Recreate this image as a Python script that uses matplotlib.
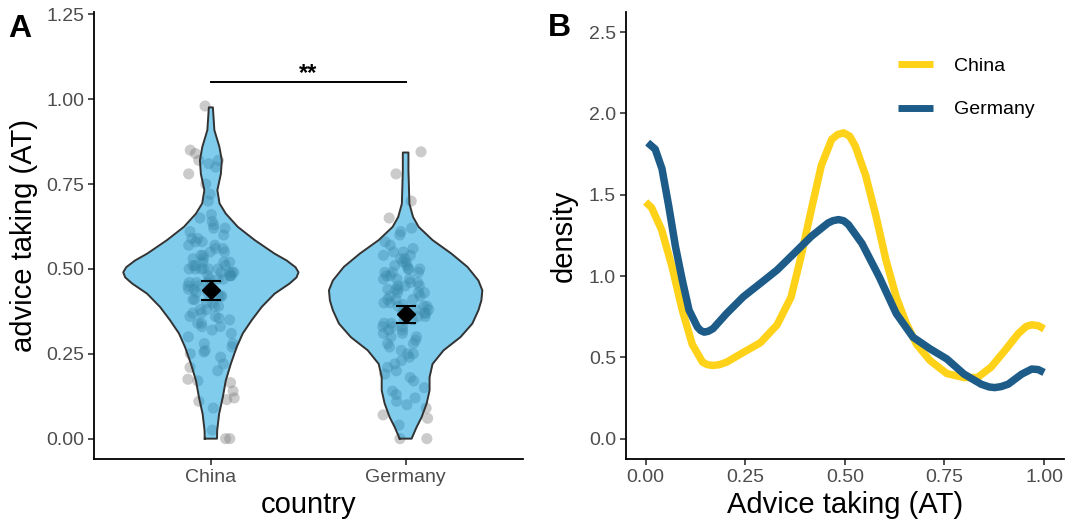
import numpy as np
import matplotlib
matplotlib.use("Agg")
import matplotlib.pyplot as plt

plt.rcParams['font.family'] = ['Liberation Sans', 'DejaVu Sans']

# ---- data ----
countries = ["China", "Germany"]

# individual advice-taking scores (jittered points)
china_at = [0.00, 0.00, 0.025,
            0.09, 0.11, 0.115, 0.12,
            0.14, 0.165, 0.17, 0.175,
            0.20, 0.21, 0.22, 0.24,
            0.25, 0.255, 0.26, 0.27, 0.28, 0.28,
            0.30, 0.31, 0.32, 0.33, 0.33, 0.34, 0.34,
            0.35, 0.355, 0.36, 0.36, 0.37, 0.37, 0.38, 0.38, 0.39, 0.39,
            0.40, 0.40, 0.41, 0.41, 0.42, 0.42, 0.42, 0.43, 0.43, 0.44, 0.44, 0.44,
            0.45, 0.45, 0.46, 0.46, 0.46, 0.47, 0.47, 0.47, 0.48, 0.48, 0.48, 0.48,
            0.49, 0.49, 0.49, 0.49,
            0.50, 0.50, 0.50, 0.50, 0.50, 0.50, 0.51, 0.51, 0.51, 0.52, 0.52, 0.52,
            0.53, 0.53, 0.54, 0.54,
            0.55, 0.55, 0.56, 0.56, 0.57, 0.57, 0.58, 0.58, 0.59, 0.59,
            0.60, 0.61, 0.62, 0.62, 0.63, 0.64,
            0.65, 0.66, 0.70, 0.72, 0.75, 0.78,
            0.80, 0.81, 0.82, 0.82, 0.84, 0.85, 0.98]
germany_at = [0.00, 0.00, 0.04, 0.06, 0.07,
              0.09, 0.10, 0.11, 0.12, 0.13,
              0.14, 0.15, 0.17, 0.18, 0.19,
              0.20, 0.21, 0.22, 0.23, 0.24,
              0.25, 0.25, 0.26, 0.27, 0.28, 0.28, 0.29,
              0.30, 0.30, 0.31, 0.31, 0.32, 0.32, 0.33, 0.33, 0.33, 0.34, 0.34,
              0.35, 0.35, 0.36, 0.36, 0.37, 0.37, 0.37, 0.38, 0.38, 0.39, 0.39, 0.39, 0.395,
              0.40, 0.40, 0.41, 0.41, 0.41, 0.42, 0.42, 0.43, 0.43, 0.43, 0.44, 0.44, 0.44,
              0.45, 0.45, 0.45, 0.46, 0.46, 0.47, 0.47, 0.47, 0.48, 0.48, 0.49, 0.49, 0.49,
              0.50, 0.50, 0.50, 0.51, 0.51, 0.52, 0.52, 0.53, 0.53, 0.54, 0.54,
              0.55, 0.55, 0.56, 0.57, 0.58,
              0.60, 0.61, 0.62, 0.65, 0.70, 0.78, 0.845]

# violin outlines: level and relative density (1 = widest violin)
china_vy = [0.0, 0.024, 0.073, 0.122, 0.171, 0.22, 0.27, 0.31, 0.349, 0.388, 0.427,
            0.457, 0.475, 0.49, 0.505, 0.525, 0.545, 0.585, 0.624, 0.663, 0.693,
            0.732, 0.78, 0.82, 0.86, 0.909, 0.976]
china_vd = [0.070, 0.072, 0.094, 0.136, 0.170, 0.227, 0.295, 0.364, 0.466, 0.580, 0.727,
            0.898, 0.977, 1.0, 0.966, 0.864, 0.727, 0.500, 0.307, 0.170, 0.099,
            0.074, 0.114, 0.125, 0.097, 0.040, 0.023]
germany_vy = [0.0, 0.034, 0.063, 0.103, 0.142, 0.181, 0.22, 0.26, 0.299, 0.339, 0.378,
              0.407, 0.437, 0.466, 0.506, 0.545, 0.585, 0.624, 0.653, 0.692, 0.79, 0.843]
germany_vd = [0.068, 0.125, 0.182, 0.239, 0.273, 0.273, 0.307, 0.432, 0.625, 0.761, 0.830,
              0.864, 0.875, 0.830, 0.705, 0.523, 0.307, 0.148, 0.085, 0.043, 0.032, 0.032]

# group means and error bars
at_mean = [0.437, 0.366]
at_lo = [0.407, 0.340]
at_hi = [0.463, 0.390]

# kernel density curves (panel B)
china_x = [0.0, 0.015, 0.04, 0.066, 0.092, 0.117, 0.143, 0.155, 0.169, 0.185, 0.203,
           0.245, 0.288, 0.33, 0.365, 0.39, 0.416, 0.441, 0.467, 0.482, 0.497, 0.512,
           0.526, 0.552, 0.578, 0.603, 0.629, 0.654, 0.68, 0.714, 0.756, 0.799, 0.833,
           0.867, 0.901, 0.935, 0.955, 0.969, 0.985, 1.0]
china_y = [1.455, 1.42, 1.285, 1.06, 0.79, 0.58, 0.47, 0.455, 0.45, 0.455, 0.47,
           0.53, 0.59, 0.70, 0.87, 1.12, 1.41, 1.68, 1.84, 1.87, 1.88, 1.86,
           1.80, 1.62, 1.37, 1.10, 0.87, 0.71, 0.58, 0.48, 0.40, 0.376, 0.376,
           0.44, 0.54, 0.645, 0.69, 0.70, 0.695, 0.675]
germany_x = [0.005, 0.024, 0.041, 0.058, 0.075, 0.092, 0.109, 0.13, 0.138, 0.147, 0.157,
             0.169, 0.203, 0.245, 0.288, 0.33, 0.373, 0.416, 0.458, 0.47, 0.484, 0.497,
             0.509, 0.543, 0.586, 0.629, 0.671, 0.714, 0.756, 0.799, 0.842, 0.862, 0.876,
             0.892, 0.91, 0.944, 0.969, 0.985, 1.0]
germany_y = [1.82, 1.78, 1.66, 1.43, 1.18, 0.975, 0.79, 0.686, 0.665, 0.655, 0.66,
             0.676, 0.769, 0.872, 0.955, 1.037, 1.14, 1.244, 1.326, 1.34, 1.347, 1.34,
             1.316, 1.20, 0.996, 0.769, 0.624, 0.552, 0.49, 0.397, 0.335, 0.318, 0.314,
             0.32, 0.335, 0.397, 0.428, 0.425, 0.407]

violin_fill = "#009bdd"
line_dark = "#333333"
tick_grey = "#4d4d4d"
col_china = "#ffd21a"
col_germany = "#1d5c89"

fig = plt.figure(figsize=(10.72, 5.28), dpi=100)
axA = fig.add_axes([94 / 1072, 1 - 459 / 528, (522.5 - 94) / 1072, (459 - 12) / 528])
axB = fig.add_axes([625.7 / 1072, 1 - 459 / 528, (1064 - 625.7) / 1072, (459 - 11.7) / 528])


def style(ax):
    for s in ["top", "right"]:
        ax.spines[s].set_visible(False)
    for s in ["left", "bottom"]:
        ax.spines[s].set_linewidth(1.3)
        ax.spines[s].set_color("black")
    ax.tick_params(length=4, width=1.2, color=line_dark, labelcolor=tick_grey,
                   labelsize=14, pad=3)


# ---- panel A ----
style(axA)
half = 0.45
for i, (vy, vd, pts) in enumerate([(china_vy, china_vd, china_at),
                                    (germany_vy, germany_vd, germany_at)]):
    c = i + 1
    pts = np.array(pts)
    # fixed, scrambled horizontal jitter (layout only)
    k = np.arange(len(pts)) + 17 * i
    jit = (np.modf(np.abs(np.sin(k * 12.9898 + 1.3) * 43758.5453))[0] - 0.5) * 2 * 0.12
    axA.scatter(c + jit, pts, s=64, color="#777777", alpha=0.38,
                edgecolors="none", zorder=1)
    vy = np.array(vy)
    vd = np.array(vd) * half
    axA.fill_betweenx(vy, c - vd, c + vd, color=violin_fill, alpha=0.5,
                      linewidth=0, zorder=2)
    xs = np.concatenate([c - vd, (c + vd)[::-1], [c - vd[0]]])
    ys = np.concatenate([vy, vy[::-1], [vy[0]]])
    axA.plot(xs, ys, color=line_dark, lw=1.4, zorder=3)

pos = np.arange(1, len(countries) + 1)
axA.errorbar(pos, at_mean,
             yerr=[np.array(at_mean) - np.array(at_lo), np.array(at_hi) - np.array(at_mean)],
             fmt="D", color="black", markersize=9, capsize=7, elinewidth=1.5,
             capthick=1.5, zorder=5)

axA.plot([1, 2], [1.05, 1.05], color="black", lw=1.4)
axA.text(1.5, 1.056, "**", ha="center", va="baseline", fontsize=17, fontweight="bold")

axA.set_xlim(0.4, 2.6)
axA.set_ylim(-0.06, 1.257)
axA.set_xticks(pos)
axA.set_xticklabels(countries)
axA.set_yticks(np.arange(0, 1.26, 0.25))
axA.set_yticklabels([f"{v:.2f}" for v in np.arange(0, 1.26, 0.25)])
axA.set_xlabel("country", fontsize=21, labelpad=4)
axA.set_ylabel("advice taking (AT)", fontsize=21, labelpad=6)
fig.text(8 / 1072, 1 - 37 / 528, "A", fontsize=23, fontweight="bold")

# ---- panel B ----
style(axB)
axB.plot(china_x, china_y, color=col_china, lw=5.4, label="China",
         solid_capstyle="butt", solid_joinstyle="round")
axB.plot(germany_x, germany_y, color=col_germany, lw=5.4, label="Germany",
         solid_capstyle="butt", solid_joinstyle="round")
axB.set_xlim(-0.05, 1.05)
axB.set_ylim(-0.125, 2.625)
axB.set_xticks(np.arange(0, 1.01, 0.25))
axB.set_xticklabels([f"{v:.2f}" for v in np.arange(0, 1.01, 0.25)])
axB.set_yticks(np.arange(0, 2.51, 0.5))
axB.set_yticklabels([f"{v:.1f}" for v in np.arange(0, 2.51, 0.5)])
axB.set_xlabel("Advice taking (AT)", fontsize=21, labelpad=4)
axB.set_ylabel("density", fontsize=21, labelpad=8)
leg = axB.legend(loc="upper left", bbox_to_anchor=(898 / 1072, 1 - 57 / 528),
                 bbox_transform=fig.transFigure, frameon=False, fontsize=14,
                 handlelength=1.8, handletextpad=1.1, labelspacing=1.35,
                 borderpad=0, borderaxespad=0)
for h in leg.get_lines():
    h.set_linewidth(5)
fig.text(548 / 1072, 1 - 36 / 528, "B", fontsize=23, fontweight="bold")

fig.savefig("out.png", dpi=100)
